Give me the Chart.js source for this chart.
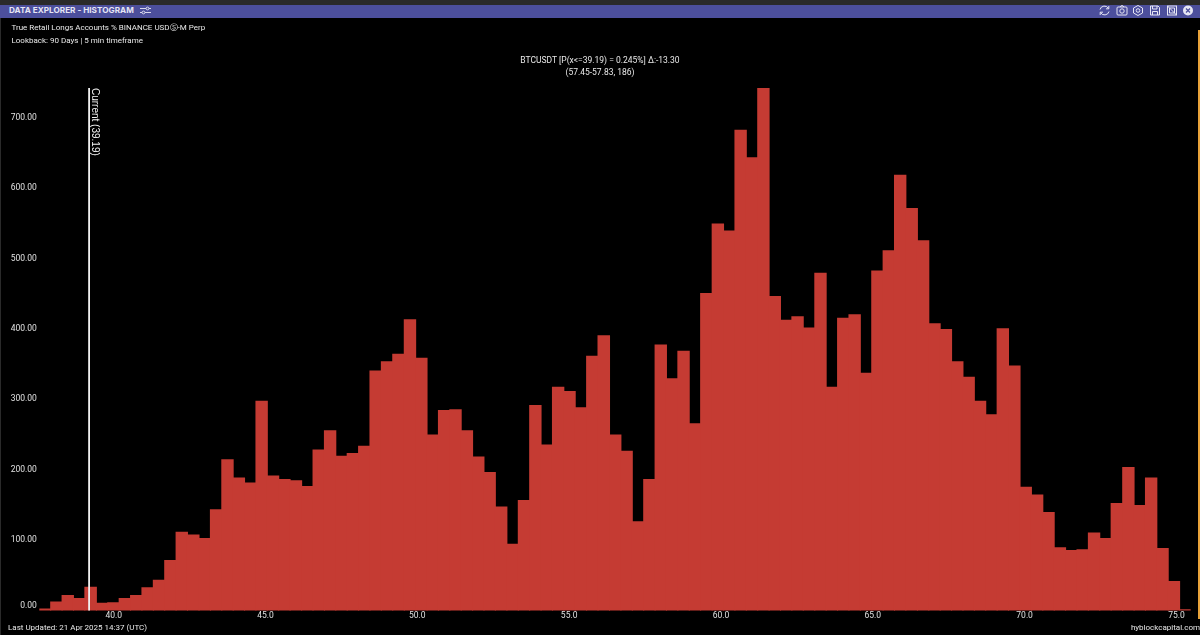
<!DOCTYPE html>
<html>
<head>
<meta charset="utf-8">
<script src="https://cdn.jsdelivr.net/npm/chart.js@4/dist/chart.umd.js"></script>
<style>
html,body{margin:0;padding:0;background:#000;width:1200px;height:635px;overflow:hidden}
body{position:relative;font-family:Roboto,"Noto Sans",sans-serif;color:#e8e8e8}
canvas{position:absolute;left:0;top:0}
.t{position:absolute;white-space:nowrap;font-size:8px;line-height:12px}
.c{left:0;width:1200px;text-align:center;font-size:8.5px}
#top{position:absolute;left:0;top:0;width:1200px;height:5px;background:#2a2a2a}
#bar{position:absolute;left:0;top:5px;width:1200px;height:13px;background:#4c4f9c}
#edge{position:absolute;left:0;top:18px;width:1px;height:617px;background:#2a2a2a}
#orange{position:absolute;left:1198px;top:30px;width:2px;height:589px;background:#e8a33a}
svg{position:absolute;top:4px}
</style>
</head>
<body>
<canvas id="c" width="1200" height="635"></canvas>
<div id="top"></div>
<div id="bar"></div>
<div id="edge"></div>
<div id="orange"></div>
<div class="t" style="left:9px;top:4px;font-family:Inter;font-size:8.2px;font-weight:700;color:#e6e6f4;line-height:13px">DATA EXPLORER - HISTOGRAM</div>
<svg style="left:140px" width="11" height="13" viewBox="0 0 11 13" fill="none" stroke="#e6e6f4" stroke-width="0.9"><path d="M0 4.5H6M9 4.5H11M0 8.5H2M5 8.5H11"/><circle cx="7.5" cy="4.5" r="1.4"/><circle cx="3.5" cy="8.5" r="1.4"/></svg>
<svg style="left:1099px" width="11" height="13" viewBox="0 0 11 13" fill="none" stroke="#e6e6f4" stroke-width="1"><path d="M1 5.5A4.6 4.6 0 0 1 9.5 4.5M10 7.5A4.6 4.6 0 0 1 1.5 8.5M9.8 2V4.8H7M1.2 11V8.2H4"/></svg>
<svg style="left:1116px" width="12" height="13" viewBox="0 0 12 13" fill="none" stroke="#e6e6f4" stroke-width="1"><rect x="1" y="3" width="10" height="8" rx="1"/><circle cx="6" cy="7" r="2.2"/><path d="M4 3L5 1.8H7L8 3"/></svg>
<svg style="left:1132px" width="12" height="13" viewBox="0 0 12 13" fill="none" stroke="#e6e6f4" stroke-width="1"><path d="M6 1.5L10.5 4V9L6 11.5L1.5 9V4Z"/><circle cx="6" cy="6.5" r="1.8"/></svg>
<svg style="left:1149px" width="12" height="13" viewBox="0 0 12 13" fill="none" stroke="#e6e6f4" stroke-width="1"><path d="M1.5 2H9L10.5 3.5V11H1.5ZM3.5 2V5H8V2M3.5 11V7.5H8.5V11"/></svg>
<svg style="left:1166px" width="12" height="13" viewBox="0 0 12 13" fill="none" stroke="#e6e6f4" stroke-width="1"><rect x="1.5" y="2" width="9" height="9"/><path d="M1.5 2L10.5 11M3.5 4H8.5V9H3.5Z"/></svg>
<svg style="left:1182px" width="12" height="13" viewBox="0 0 12 13"><circle cx="6" cy="6.5" r="5" fill="#e6e6f4"/><path d="M4 4.5L8 8.5M8 4.5L4 8.5" stroke="#4c4f9c" stroke-width="1.2"/></svg>
<div class="t" style="left:11.5px;top:22px">True Retail Longs Accounts % BINANCE USD<span style="font-size:7.5px">Ⓢ</span>-M Perp</div>
<div class="t" style="left:11.5px;top:35px">Lookback: 90 Days | 5 min timeframe</div>
<div class="t c" style="top:54px">BTCUSDT [P(x&lt;=39.19) = 0.245%] Δ:-13.30</div>
<div class="t c" style="top:66px">(57.45-57.83, 186)</div>
<div class="t" style="left:8px;top:621.5px">Last Updated: 21 Apr 2025 14:37 (UTC)</div>
<div class="t" style="right:0;top:622px">hyblockcapital.com</div>
<script>
const binCenters = [37.74,38.11,38.49,38.86,39.24,39.62,39.99,40.37,40.74,41.12,41.49,41.87,42.24,42.62,43.00,43.37,43.75,44.12,44.50,44.87,45.25,45.62,46.00,46.38,46.75,47.13,47.50,47.88,48.25,48.63,49.00,49.38,49.76,50.13,50.51,50.88,51.26,51.63,52.01,52.38,52.76,53.14,53.51,53.89,54.26,54.64,55.01,55.39,55.76,56.14,56.52,56.89,57.27,57.64,58.02,58.39,58.77,59.14,59.52,59.90,60.27,60.65,61.02,61.40,61.77,62.15,62.52,62.90,63.28,63.65,64.03,64.40,64.78,65.15,65.53,65.90,66.28,66.66,67.03,67.41,67.78,68.16,68.53,68.91,69.28,69.66,70.04,70.41,70.79,71.16,71.54,71.91,72.29,72.66,73.04,73.42,73.79,74.17,74.54,74.92,75.29];
const counts = [2,12,21,17,33,10,11,17,21,32,43,71,111,107,102,143,214,188,181,297,191,186,184,176,228,255,219,223,233,340,353,364,413,358,249,284,285,255,218,196,147,94,156,291,235,317,311,288,361,390,249,226,126,186,377,329,368,265,450,549,539,682,643,742,446,412,417,401,479,317,415,420,337,482,511,618,571,525,407,399,353,331,297,278,400,347,175,164,139,89,85,86,110,102,152,203,149,188,88,41,1];
const xTickValues = [40,45,50,55,60,65,70,75];
const yTickValues = [0,100,200,300,400,500,600,700];
const currentValue = 39.19;
const currentLabel = 'Current (39.19)';

const currentLine = {
  id: 'currentLine',
  afterDatasetsDraw(chart) {
    const {ctx, chartArea, scales} = chart;
    const x = scales.x.getPixelForValue(currentValue);
    ctx.save();
    ctx.strokeStyle = '#f2f2f2';
    ctx.lineWidth = 1.8;
    ctx.beginPath();
    ctx.moveTo(x, chartArea.top);
    ctx.lineTo(x, chartArea.bottom);
    ctx.stroke();
    ctx.translate(x + 1, chartArea.top);
    ctx.rotate(Math.PI / 2);
    ctx.fillStyle = '#f2f2f2';
    ctx.font = '10px "Liberation Sans"';
    ctx.textAlign = 'left';
    ctx.textBaseline = 'bottom';
    ctx.fillText(currentLabel, 0, 0);
    ctx.restore();
  }
};

new Chart(document.getElementById('c'), {
  type: 'bar',
  data: {
    labels: binCenters,
    datasets: [{
      data: binCenters.map((x, i) => ({x, y: counts[i]})),
      backgroundColor: '#c53b33',
      borderWidth: 0,
      barThickness: 'flex',
      barPercentage: 1,
      categoryPercentage: 1,
      inflateAmount: 0.5
    }]
  },
  options: {
    responsive: false,
    animation: false,
    layout: {padding: {top: 88, right: 9.3, left: 0, bottom: 0}},
    plugins: {legend: {display: false}, tooltip: {enabled: false}},
    scales: {
      x: {
        type: 'linear',
        offset: false,
        min: 37.55,
        max: 75.47,
        grid: {display: false, drawTicks: false},
        border: {display: false},
        afterBuildTicks(s) { s.ticks = xTickValues.map(v => ({value: v})); },
        afterFit(s) { s.height = 24.6; },
        ticks: {
          color: '#e0e0e0',
          padding: 0,
          maxRotation: 0,
          autoSkip: false,
          font: {family: 'Roboto', size: 8.5},
          callback: v => v.toFixed(1)
        }
      },
      y: {
        min: 0,
        max: 742,
        grid: {display: false, drawTicks: false},
        border: {display: false},
        afterBuildTicks(s) { s.ticks = yTickValues.map(v => ({value: v})); },
        afterFit(s) { s.width = 39.3; },
        ticks: {
          color: '#e0e0e0',
          padding: 2.5,
          autoSkip: false,
          font: {family: 'Roboto', size: 8.5, lineHeight: 1},
          callback: v => v === 0 ? ['0.00', ''] : v.toFixed(2)
        }
      }
    }
  },
  plugins: [currentLine]
});
</script>
</body>
</html>
